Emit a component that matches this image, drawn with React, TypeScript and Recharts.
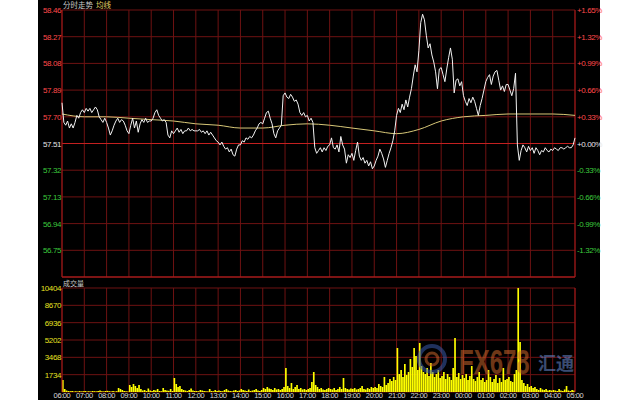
import React from 'react';
import {
  ComposedChart,
  Line,
  Bar,
  XAxis,
  YAxis,
  CartesianGrid,
  ReferenceLine,
} from 'recharts';

const timeLabels = [
  '06:00', '07:00', '08:00', '09:00', '10:00', '11:00', '12:00', '13:00',
  '14:00', '15:00', '16:00', '17:00', '18:00', '19:00', '20:00', '21:00',
  '22:00', '23:00', '00:00', '01:00', '02:00', '03:00', '04:00', '05:00',
];

const basePrice = 57.51;
const priceTicks = [58.46, 58.27, 58.08, 57.89, 57.7, 57.51, 57.32, 57.13, 56.94, 56.75, 56.56];
const pctLabels = ['+1.65%', '+1.32%', '+0.99%', '+0.66%', '+0.33%', '+0.00%', '-0.33%', '-0.66%', '-0.99%', '-1.32%', ''];

const volTicks = [0, 1734, 3468, 5202, 6936, 8670, 10404];
const volPctLabels = ['', '+16%', '+33%', '+50%', '+66%', '+83%', '+100%'];

// 5-minute prices, one row per hour starting 06:00
const price = [
  57.80, 57.66, 57.64, 57.67, 57.62, 57.65, 57.62, 57.66, 57.71, 57.69, 57.73, 57.75,
  57.73, 57.76, 57.74, 57.76, 57.73, 57.75, 57.77, 57.75, 57.70, 57.68, 57.66, 57.69,
  57.66, 57.62, 57.57, 57.60, 57.64, 57.67, 57.69, 57.66, 57.68, 57.67, 57.64, 57.60,
  57.58, 57.64, 57.69, 57.62, 57.67, 57.59, 57.65, 57.68, 57.66, 57.69, 57.66, 57.67,
  57.67, 57.69, 57.73, 57.75, 57.71, 57.69, 57.67, 57.68, 57.66, 57.57, 57.55, 57.60,
  57.58, 57.60, 57.62, 57.59, 57.61, 57.58, 57.60, 57.60, 57.62, 57.60, 57.61, 57.60,
  57.60, 57.60, 57.61, 57.59, 57.60, 57.58, 57.60, 57.57, 57.59, 57.57, 57.55, 57.53,
  57.52, 57.50, 57.52, 57.49, 57.47, 57.48, 57.45, 57.47, 57.43, 57.42, 57.47, 57.50,
  57.50, 57.53, 57.52, 57.55, 57.54, 57.56, 57.55, 57.57, 57.60, 57.62, 57.65, 57.66,
  57.65, 57.69, 57.73, 57.74, 57.69, 57.65, 57.58, 57.55, 57.60, 57.62, 57.64, 57.85,
  57.87, 57.84, 57.83, 57.86, 57.84, 57.81, 57.82, 57.79, 57.73, 57.71, 57.73, 57.70,
  57.71, 57.67, 57.69, 57.66, 57.48, 57.44, 57.46, 57.48, 57.45, 57.48, 57.46, 57.49,
  57.50, 57.55, 57.48, 57.47, 57.50, 57.45, 57.56, 57.50, 57.47, 57.37, 57.43, 57.41,
  57.44, 57.39, 57.46, 57.52, 57.42, 57.39, 57.41, 57.37, 57.39, 57.35, 57.38, 57.33,
  57.35, 57.39, 57.42, 57.47, 57.44, 57.40, 57.34, 57.39, 57.44, 57.48, 57.53, 57.60,
  57.71, 57.76, 57.73, 57.79, 57.75, 57.82, 57.77, 57.84, 57.90, 57.99, 58.07, 58.02,
  58.17, 58.37, 58.43, 58.39, 58.28, 58.19, 58.22, 58.14, 58.09, 58.02, 57.90, 58.04,
  58.05, 58.00, 57.95, 58.04, 58.12, 58.19, 58.11, 57.87, 57.96, 57.97, 57.92, 57.95,
  57.85, 57.81, 57.78, 57.83, 57.80, 57.84, 57.81, 57.76, 57.71, 57.78, 57.83, 57.89,
  57.95, 57.98, 58.00, 57.93, 57.99, 58.02, 58.03, 57.96, 57.89, 57.92, 57.88, 57.93,
  57.93, 57.89, 57.85, 57.90, 58.01, 57.50, 57.39, 57.46, 57.50, 57.48, 57.45, 57.49,
  57.46, 57.48, 57.44, 57.48, 57.46, 57.43, 57.46, 57.45, 57.48, 57.46, 57.45, 57.47,
  57.46, 57.48, 57.47, 57.46, 57.48, 57.48, 57.47, 57.48, 57.49, 57.48, 57.48, 57.50,
  57.55,
];

// average line, read once per hour
const avgPrice = [
  57.72, 57.70, 57.70, 57.69, 57.68, 57.67, 57.65, 57.64, 57.62, 57.62, 57.64, 57.65,
  57.64, 57.62, 57.60, 57.58, 57.61, 57.67, 57.70, 57.71, 57.72, 57.72, 57.72, 57.71,
];

// 5-minute volume, one row per hour starting 06:00
const volume = [
  1200, 300, 150, 100, 80, 100, 60, 80, 50, 100, 60, 80,
  100, 60, 80, 50, 100, 80, 60, 100, 150, 80, 60, 100,
  120, 80, 60, 100, 50, 80, 400, 300, 200, 100, 80, 60,
  700, 500, 800, 600, 400, 700, 300, 150, 200, 100, 350, 150,
  100, 200, 150, 300, 100, 80, 400, 200, 150, 120, 300, 100,
  1400, 800, 500, 600, 300, 200, 150, 100, 200, 350, 150, 100,
  100, 80, 200, 150, 100, 80, 60, 300, 100, 80, 200, 100,
  150, 100, 80, 200, 300, 150, 100, 80, 150, 200, 100, 150,
  300, 200, 150, 100, 250, 100, 150, 200, 300, 150, 100, 200,
  400, 300, 500, 350, 300, 200, 400, 250, 300, 200, 300, 500,
  2400, 600, 400, 900, 300, 500, 700, 300, 400, 250, 300, 200,
  300, 400, 1000, 2000, 700, 500, 300, 400, 250, 200, 300, 400,
  300, 250, 400, 200, 300, 500, 300, 1400, 400, 300, 250, 350,
  300, 400, 250, 300, 400, 600, 300, 250, 400, 300, 500, 400,
  500, 400, 800, 600, 500, 1500, 700, 900, 1300, 1100, 1500, 1200,
  4400, 1800, 2200, 1500, 2800, 1700, 2000, 3300, 2500, 4400, 3600, 2200,
  4900, 2600, 2000, 1800, 2400, 1600, 2900, 2000, 1500, 1800, 2200, 1400,
  1600, 2000, 1300, 1800, 1500, 1200, 2400, 5400, 1500, 1900, 1300, 1700,
  1400, 1800, 1200, 1600, 2600, 1300, 1100, 1500, 2000, 1200, 1400, 1000,
  1200, 2200, 1500, 1000, 1300, 1700, 900, 1400, 1000, 2400, 1200, 1300,
  1500, 1100, 1000, 1800, 2200, 10400, 5000, 1200, 900, 600, 800, 500,
  600, 400, 500, 300, 200, 400, 250, 200, 300, 150, 200, 150,
  200, 150, 100, 300, 150, 100, 250, 600, 150, 100, 200, 150,
];

const priceData = price.map((p, i) => ({
  t: i * 5,
  price: p,
  avg: i % 12 === 0 ? avgPrice[i / 12] : null,
}));
const volData = volume.map((v, i) => ({ t: i * 5 + 2.5, vol: v }));
const hourTicks = timeLabels.map((_, i) => i * 60);

const W = 640;
const GRID = '#6e1212';
const BRIGHT = '#c42020';
const FONT = '"Liberation Sans", Arial, sans-serif';
const CJK = '"Noto Sans CJK SC", sans-serif';

const priceColor = (v: number) =>
  Math.abs(v - basePrice) < 0.001 ? '#e6e6e6' : v > basePrice ? '#ff4a4a' : '#3cc83c';

const NoTick = () => <g />;

const LeftPriceTick = (props: any) => {
  const { x, y, payload } = props;
  const i = priceTicks.indexOf(payload.value);
  if (i === priceTicks.length - 1) return <g />;
  return (
    <text x={x} y={y} dy={3} textAnchor="end" fill={priceColor(payload.value)}
      fontSize={8} fontFamily={FONT} letterSpacing={-0.4}>
      {payload.value.toFixed(2)}
    </text>
  );
};

const RightPctTick = (props: any) => {
  const { x, y, payload } = props;
  const i = priceTicks.indexOf(payload.value);
  return (
    <text x={x} y={y} dy={3} textAnchor="start" fill={priceColor(payload.value)}
      fontSize={8} fontFamily={FONT} letterSpacing={-0.4}>
      {pctLabels[i]}
    </text>
  );
};

const LeftVolTick = (props: any) => {
  const { x, y, payload } = props;
  if (payload.value === 0) return <g />;
  return (
    <text x={x} y={y} dy={3} textAnchor="end" fill="#e8e020"
      fontSize={8} fontFamily={FONT} letterSpacing={-0.4}>
      {payload.value}
    </text>
  );
};

const RightVolTick = (props: any) => {
  const { x, y, payload } = props;
  const i = volTicks.indexOf(payload.value);
  return (
    <text x={x} y={y} dy={3} textAnchor="start" fill="#e8e020"
      fontSize={8} fontFamily={FONT} letterSpacing={-0.4}>
      {volPctLabels[i]}
    </text>
  );
};

const TimeTick = (props: any) => {
  const { x, y, payload } = props;
  const i = hourTicks.indexOf(payload.value);
  return (
    <text x={x} y={y} dy={6} textAnchor="middle" fill="#d8d8d8"
      fontSize={7.5} fontFamily={FONT} letterSpacing={-0.4}>
      {timeLabels[i]}
    </text>
  );
};

export default function App() {
  return (
    <div style={{ position: 'fixed', left: 0, top: 0, width: W, height: 400, background: '#fff', overflow: 'hidden' }}>
      <div style={{ position: 'absolute', left: 38, top: 0, width: 562, height: 400, background: '#000' }} />

      <div style={{ position: 'absolute', left: 0, top: 0 }}>
        <ComposedChart width={W} height={280} data={priceData}
          margin={{ top: 10, right: 0, bottom: 3, left: 0 }}>
          <CartesianGrid yAxisId="left" stroke={GRID} strokeWidth={1} />
          <XAxis dataKey="t" type="number" domain={[0, 1380]} ticks={hourTicks} interval={0}
            height={0} tick={NoTick} axisLine={false} tickLine={false} />
          <YAxis yAxisId="left" domain={[56.56, 58.46]} ticks={priceTicks} interval={0} width={62}
            axisLine={false} tickLine={false} tickSize={0} tickMargin={1} tick={LeftPriceTick} />
          <YAxis yAxisId="right" orientation="right" domain={[56.56, 58.46]} ticks={priceTicks} interval={0}
            width={65} axisLine={false} tickLine={false} tickSize={0} tickMargin={2} tick={RightPctTick} />
          <ReferenceLine yAxisId="left" y={basePrice} stroke={BRIGHT} />
          <ReferenceLine yAxisId="left" y={56.56} stroke={BRIGHT} />
          <ReferenceLine yAxisId="left" x={0} stroke="#a01818" />
          <ReferenceLine yAxisId="left" x={1380} stroke="#a01818" />
          <Line yAxisId="right" dataKey="avg" type="monotone" connectNulls stroke="#d8c878"
            strokeWidth={1} dot={false} isAnimationActive={false} />
          <Line yAxisId="left" dataKey="price" type="linear" stroke="#f2f2f2"
            strokeWidth={1} dot={false} isAnimationActive={false} />
        </ComposedChart>
      </div>

      <div style={{ position: 'absolute', left: 0, top: 280 }}>
        <ComposedChart width={W} height={120} data={volData}
          margin={{ top: 8, right: 0, bottom: 0, left: 0 }}>
          <CartesianGrid yAxisId="left" stroke={GRID} strokeWidth={1} />
          <XAxis dataKey="t" type="number" domain={[0, 1380]} ticks={hourTicks}
            height={8} axisLine={false} tickLine={false} tickSize={0} tickMargin={0}
            tick={TimeTick} interval={0} />
          <YAxis yAxisId="left" domain={[0, 10404]} ticks={volTicks} interval={0} width={62}
            axisLine={false} tickLine={false} tickSize={0} tickMargin={1} tick={LeftVolTick} />
          <YAxis yAxisId="right" orientation="right" domain={[0, 10404]} ticks={volTicks} interval={0}
            width={65} axisLine={false} tickLine={false} tickSize={0} tickMargin={2} tick={RightVolTick} />
          <ReferenceLine yAxisId="left" x={0} stroke="#a01818" />
          <ReferenceLine yAxisId="left" x={1380} stroke="#a01818" />
          <Bar yAxisId="left" dataKey="vol" fill="#ffff00" barSize={2} isAnimationActive={false} />
        </ComposedChart>
      </div>

      <svg width={W} height={400} style={{ position: 'absolute', left: 0, top: 0, pointerEvents: 'none' }}>
        <text x={63} y={8} fontSize={7.5} fontFamily={CJK} fill="#c8c8c8">分时走势</text>
        <text x={96} y={8} fontSize={7.5} fontFamily={CJK} fill="#e0cc60">均线</text>
        <text x={63} y={286} fontSize={7} fontFamily={CJK} fill="#c8c8c8">成交量</text>
        <g opacity={0.55}>
          <circle cx={432} cy={359} r={13} fill="none" stroke="#3a5aa8" strokeWidth={4} />
          <circle cx={432} cy={359} r={6} fill="none" stroke="#c8642a" strokeWidth={3} />
          <text transform="translate(459,374) scale(1,1.5)" x={0} y={0} fontSize={24}
            fontWeight="bold" fontFamily={FONT} fill="#c8642a">FX678</text>
          <text x={538} y={370} fontSize={18} fontWeight="bold" fontFamily={CJK} fill="#6a8ad0">汇通</text>
        </g>
      </svg>
    </div>
  );
}
